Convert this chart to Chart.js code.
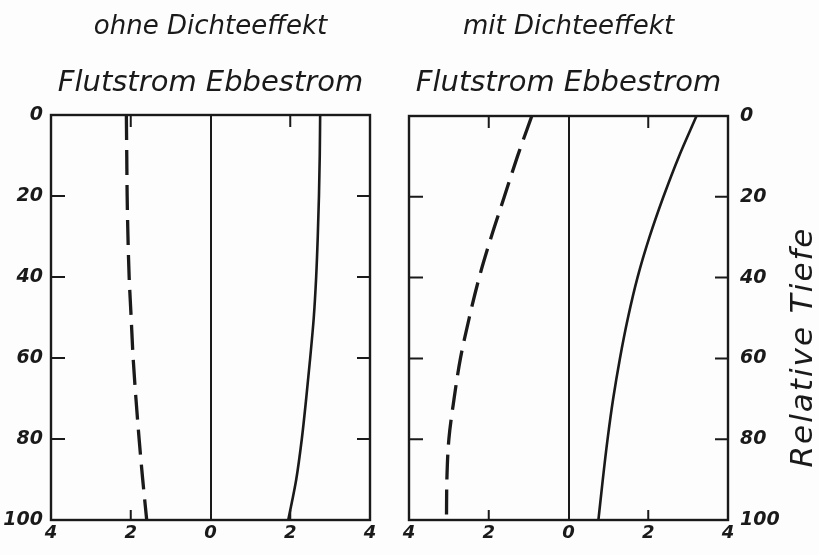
<!DOCTYPE html>
<html>
<head>
<meta charset="utf-8">
<script src="https://cdn.jsdelivr.net/npm/chart.js@4.4.1/dist/chart.umd.min.js"></script>
<style>
  html, body { margin: 0; padding: 0; background: #fdfdfd; }
  #wrap { position: relative; width: 819px; height: 555px; overflow: hidden; }
  #left { position: absolute; left: 0; top: 0; }
  #right { position: absolute; left: 390px; top: 0; }
</style>
</head>
<body>
<div id="wrap">
  <canvas id="left" width="390" height="555"></canvas>
  <canvas id="right" width="429" height="555"></canvas>
</div>
<script>
// relative depth (0 = surface, 100 = bottom)
const depth = [0, 10, 20, 30, 40, 50, 60, 70, 80, 90, 100];

// current speed, flood negative / ebb positive
const flutOhne = [-2.11, -2.10, -2.09, -2.07, -2.04, -1.99, -1.94, -1.87, -1.79, -1.70, -1.60];
const ebbeOhne = [2.75, 2.74, 2.72, 2.69, 2.65, 2.59, 2.50, 2.40, 2.29, 2.15, 1.95];
const flutMit = [-0.92, -1.28, -1.61, -1.94, -2.24, -2.49, -2.71, -2.87, -3.00, -3.05, -3.06];
const ebbeMit = [3.21, 2.77, 2.38, 2.03, 1.73, 1.49, 1.29, 1.12, 0.98, 0.86, 0.75];

const depthTicks = [0, 20, 40, 60, 80, 100];
const speedTicks = [-4, -2, 0, 2, 4];
const innerDepthTicks = [20, 40, 60, 80];
const innerSpeedTicks = [-2, 2];

const ink = "#1a1a1a";
const fontFamily = "'DejaVu Sans', sans-serif";

const toPoints = vals => vals.map((v, i) => ({ x: v, y: depth[i] }));

// frame around the plot area plus short inward tick marks
const framePlugin = {
  id: "frame",
  afterDatasetsDraw(chart) {
    const { ctx, chartArea: a, scales } = chart;
    ctx.save();
    ctx.strokeStyle = ink;
    ctx.lineWidth = 2.4;
    ctx.strokeRect(a.left, a.top, a.right - a.left, a.bottom - a.top);
    ctx.lineWidth = 2;
    ctx.beginPath();
    innerDepthTicks.forEach(v => {
      const y = scales.y.getPixelForValue(v);
      ctx.moveTo(a.left, y); ctx.lineTo(a.left + 14, y);
      ctx.moveTo(a.right, y); ctx.lineTo(a.right - 13, y);
    });
    innerSpeedTicks.forEach(v => {
      const x = scales.x.getPixelForValue(v);
      ctx.moveTo(x, a.top); ctx.lineTo(x, a.top + 12);
      ctx.moveTo(x, a.bottom); ctx.lineTo(x, a.bottom - 10);
    });
    ctx.stroke();
    ctx.restore();
  }
};

// rotated depth label beside the right-hand axis
const depthLabelPlugin = {
  id: "depthLabel",
  afterDraw(chart) {
    const { ctx, chartArea: a } = chart;
    const ys = chart.scales.y;
    ctx.save();
    ctx.translate(ys.right - 15, (a.top + a.bottom) / 2 + 29);
    ctx.rotate(-Math.PI / 2);
    ctx.font = "italic 31px " + fontFamily;
    ctx.letterSpacing = "2px";
    ctx.fillStyle = ink;
    ctx.textAlign = "center";
    ctx.textBaseline = "middle";
    ctx.fillText("Relative Tiefe", 0, 0);
    ctx.restore();
  }
};

function makePanel(id, title, flut, ebbe, side) {
  const plugins = [framePlugin];
  if (side === "right") plugins.push(depthLabelPlugin);

  return new Chart(document.getElementById(id), {
    type: "scatter",
    data: {
      datasets: [
        {
          label: "Flutstrom",
          data: toPoints(flut),
          showLine: true,
          borderColor: ink,
          borderWidth: 3.3,
          borderDash: [25, 10],
          pointRadius: 0,
          cubicInterpolationMode: "monotone"
        },
        {
          label: "Ebbestrom",
          data: toPoints(ebbe),
          showLine: true,
          borderColor: ink,
          borderWidth: 2.6,
          pointRadius: 0,
          cubicInterpolationMode: "monotone"
        }
      ]
    },
    options: {
      responsive: false,
      animation: false,
      indexAxis: "y",
      layout: {
        padding: side === "left" ? { left: 0, right: 20, top: 0, bottom: 0 } : { left: 19, right: 0, top: 0, bottom: 0 }
      },
      plugins: {
        legend: { display: false },
        tooltip: { enabled: false },
        title: {
          display: true,
          text: title,
          fullSize: false,
          color: ink,
          font: { family: fontFamily, size: 26, style: "italic", weight: "normal" },
          padding: { top: 12, bottom: 0 }
        },
        subtitle: {
          display: true,
          text: "Flutstrom Ebbestrom",
          fullSize: false,
          color: ink,
          font: { family: fontFamily, size: 29, style: "italic", weight: "normal" },
          padding: { top: 23, bottom: side === "left" ? 14 : 15 }
        }
      },
      scales: {
        x: {
          type: "linear",
          min: -4,
          max: 4,
          afterBuildTicks: s => { s.ticks = speedTicks.map(v => ({ value: v })); },
          afterFit: s => { s.height = 35; },
          ticks: {
            color: ink,
            padding: 3,
            maxRotation: 0,
            autoSkip: false,
            font: { family: fontFamily, size: 18, style: "italic", weight: "bold" },
            callback: v => String(Math.abs(v))
          },
          grid: {
            drawTicks: false,
            lineWidth: 2,
            color: c => (c.tick && c.tick.value === 0 ? ink : "rgba(0,0,0,0)")
          },
          border: { display: false }
        },
        y: {
          type: "linear",
          position: side,
          reverse: true,
          min: 0,
          max: 100,
          afterBuildTicks: s => { s.ticks = depthTicks.map(v => ({ value: v })); },
          afterFit: s => { s.width = side === "left" ? 51 : 91; },
          ticks: {
            color: ink,
            padding: side === "left" ? 8 : 12,
            autoSkip: false,
            font: { family: fontFamily, size: 19, style: "italic", weight: "bold" }
          },
          grid: { display: false, drawTicks: false },
          border: { display: false }
        }
      }
    },
    plugins
  });
}

makePanel("left", "ohne Dichteeffekt", flutOhne, ebbeOhne, "left");
makePanel("right", "mit Dichteeffekt", flutMit, ebbeMit, "right");
</script>
</body>
</html>
